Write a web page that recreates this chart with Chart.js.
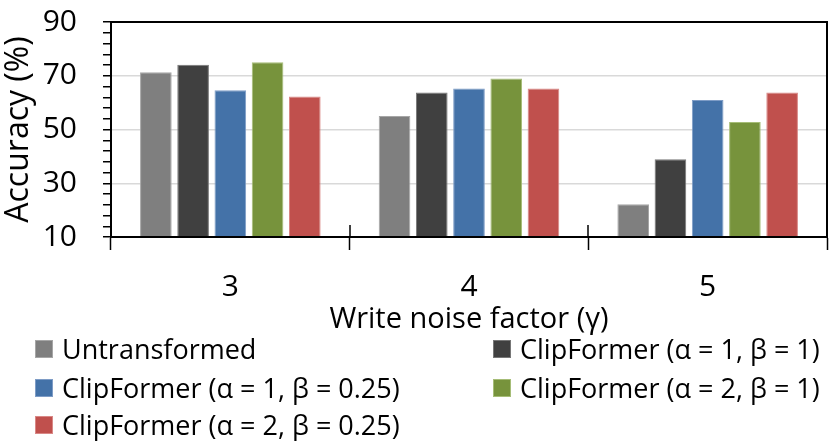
<!DOCTYPE html>
<html>
<head>
<meta charset="utf-8">
<script src="https://cdn.jsdelivr.net/npm/chart.js@4.4.0/dist/chart.umd.min.js"></script>
<style>
  body { margin: 0; background: #fff; }
  #wrap { position: relative; width: 831px; height: 441px; }
  #legend { position: absolute; left: 0; top: 0; width: 831px; height: 441px; pointer-events: none;
            font-family: 'Open Sans', sans-serif; font-size: 27px; color: #000; }
  .item { position: absolute; display: flex; align-items: center; white-space: nowrap; height: 36px; line-height: 36px; }
  .box { width: 18px; height: 18px; margin-right: 9px; box-sizing: border-box; border: 1px solid; }
</style>
</head>
<body>
<div id="wrap">
  <canvas id="chart" width="831" height="441"></canvas>
  <div id="legend"></div>
</div>
<script>
// Data
const categories = ['3', '4', '5'];
const seriesNames = [
  'Untransformed',
  'ClipFormer (α = 1, β = 1)',
  'ClipFormer (α = 1, β = 0.25)',
  'ClipFormer (α = 2, β = 1)',
  'ClipFormer (α = 2, β = 0.25)'
];
const untransformed = [71.3, 55.0, 22.2];
const clipA1B1 = [74.1, 63.8, 38.9];
const clipA1B025 = [64.6, 65.3, 61.0];
const clipA2B1 = [75.0, 69.0, 52.8];
const clipA2B025 = [62.3, 65.3, 63.8];
const yLabels = [10, 30, 50, 70, 90];
const yGrid = [30, 50, 70];

const fills = ['#7f7f7f', '#404040', '#4472a8', '#77933c', '#c0504d'];
const edges = ['#a6a6a6', '#777777', '#7e9cc6', '#a6bd77', '#d98886'];
const values = [untransformed, clipA1B1, clipA1B025, clipA2B1, clipA2B025];

const FONT = "'Open Sans', sans-serif";

// frame + short inward ticks between categories
const framePlugin = {
  id: 'frame',
  afterDraw(chart) {
    const { ctx, chartArea: a, scales } = chart;
    ctx.save();
    ctx.strokeStyle = '#000';
    ctx.lineWidth = 2;
    ctx.strokeRect(a.left, a.top, a.right - a.left, a.bottom - a.top);
    ctx.lineWidth = 1.5;
    for (let i = 1; i < categories.length; i++) {
      const x = Math.round(scales.x.getPixelForValue(i - 0.5));
      ctx.beginPath();
      ctx.moveTo(x, a.bottom - 12);
      ctx.lineTo(x, a.bottom);
      ctx.stroke();
    }
    ctx.restore();
  }
};

const chart = new Chart(document.getElementById('chart').getContext('2d'), {
  type: 'bar',
  data: {
    labels: categories,
    datasets: seriesNames.map((name, i) => ({
      label: name,
      data: values[i],
      backgroundColor: fills[i],
      borderColor: edges[i],
      borderWidth: 1,
      categoryPercentage: 0.78,
      barPercentage: 0.85
    }))
  },
  options: {
    responsive: false,
    animation: false,
    events: [],
    layout: { padding: { top: 22, right: 4, bottom: 104, left: 0 } },
    plugins: { legend: { display: false }, tooltip: { enabled: false } },
    scales: {
      x: {
        border: { color: '#000', width: 2 },
        grid: { display: true, drawOnChartArea: false, drawTicks: true, tickLength: 13,
                offset: true, tickColor: '#000', tickWidth: 1.5 },
        ticks: { color: '#000', font: { family: FONT, size: 30 }, padding: 19 },
        title: { display: true, text: 'Write noise factor (γ)', color: '#000',
                 font: { family: FONT, size: 29 }, padding: 0 },
        afterFit(scale) { scale.height = 100; }
      },
      y: {
        min: 10,
        max: 90,
        border: { color: '#000', width: 2 },
        grid: {
          drawTicks: true,
          tickLength: 8,
          tickColor: '#000',
          tickWidth: 1.5,
          lineWidth: 1.5,
          color: ctx => yGrid.includes(ctx.tick && ctx.tick.value) ? '#d9d9d9' : 'rgba(0,0,0,0)'
        },
        ticks: {
          stepSize: 4,
          autoSkip: false,
          color: '#000',
          padding: 26,
          font: { family: FONT, size: 30 },
          callback: v => yLabels.includes(v) ? String(v) : ''
        },
        title: { display: true, text: 'Accuracy (%)', color: '#000',
                 font: { family: FONT, size: 32 }, padding: 0 },
        afterFit(scale) {
          scale.width = 111;
          scale.paddingTop = 0;
          scale.paddingBottom = 0;
        }
      }
    }
  },
  plugins: [framePlugin]
});

// legend laid out in two columns like the original
const legendSpots = [[35, 349], [493, 349], [35, 388], [493, 388], [35, 425]];
const legendEl = document.getElementById('legend');
chart.data.datasets.forEach((ds, i) => {
  const item = document.createElement('div');
  item.className = 'item';
  item.style.left = legendSpots[i][0] + 'px';
  item.style.top = (legendSpots[i][1] - 18) + 'px';
  const box = document.createElement('span');
  box.className = 'box';
  box.style.background = ds.backgroundColor;
  box.style.borderColor = ds.borderColor;
  const txt = document.createElement('span');
  txt.textContent = ds.label;
  item.appendChild(box);
  item.appendChild(txt);
  legendEl.appendChild(item);
});
</script>
</body>
</html>
